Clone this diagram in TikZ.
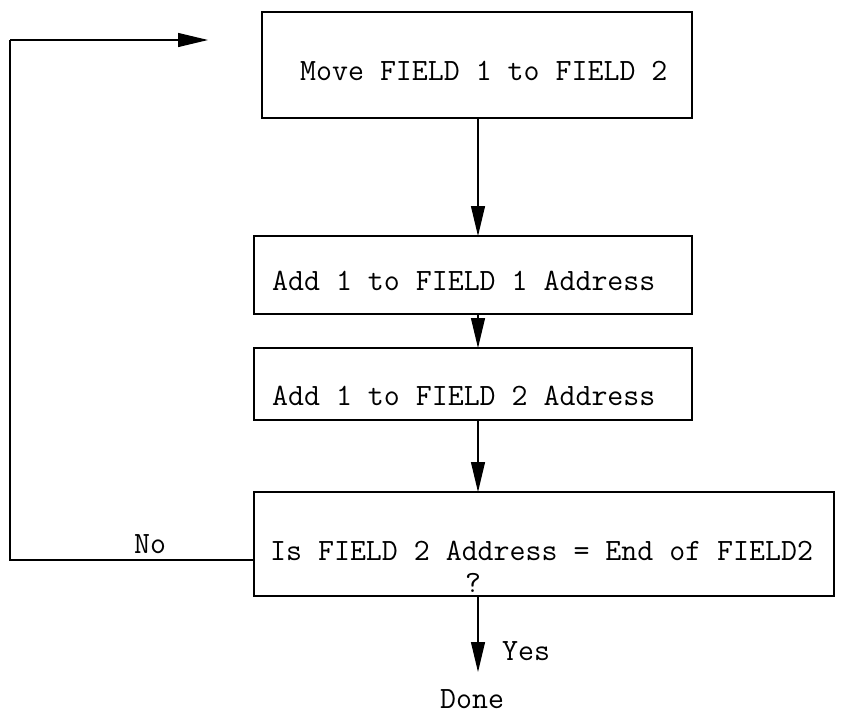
\documentclass[tikz,border=0pt]{standalone}
\usetikzlibrary{arrows.meta}
\begin{document}
\begin{tikzpicture}[x=1pt,y=-1pt,
  box/.style={draw,line width=1.3pt},
  lbl/.style={font=\ttfamily\fontsize{31}{34}\selectfont,inner sep=0pt,anchor=base west},
  arr/.style={line width=1.2pt,-{Triangle[length=30pt,width=14pt]}},
  ln/.style={line width=1.2pt}]
\useasboundingbox (0,0) rectangle (843,718);
\draw[box] (262,12) rectangle (692,118); \node[lbl] (t1) at (300,80) {Move FIELD 1 to FIELD 2};
\draw[box] (254,236) rectangle (692,314); \node[lbl] (t2) at (272,290) {Add 1 to FIELD 1 Address};
\draw[box] (254,348) rectangle (692,420); \node[lbl] (t3) at (272,405) {Add 1 to FIELD 2 Address};
\draw[box] (254,492) rectangle (834,596);
\node[lbl] (t4) at (270,560) {Is FIELD 2 Address = End of FIELD2};
\node[lbl] (q) at (465,592) {?};
\coordinate (b1) at (478,118); \coordinate (b2t) at (478,236);
\coordinate (b2) at (478,314); \coordinate (b3t) at (478,348);
\coordinate (b3) at (478,420); \coordinate (b4t) at (478,492);
\coordinate (b4) at (478,596); \coordinate (end) at (478,672);
\draw[arr] (b1) -- (b2t);
\draw[arr] (b2) -- (b3t);
\draw[arr] (b3) -- (b4t);
\draw[arr] (b4) -- (end);
\coordinate (l0) at (254,560); \coordinate (l1) at (10,560);
\coordinate (l2) at (10,40); \coordinate (l3) at (208,40);
\draw[ln] (l0) -- (l1) -- (l2);
\draw[arr] (l2) -- (l3);
\node[lbl] (no) at (134,553) {No};
\node[lbl] (yes) at (502,660) {Yes};
\node[lbl] (done) at (440,708) {Done};
\end{tikzpicture}
\end{document}
